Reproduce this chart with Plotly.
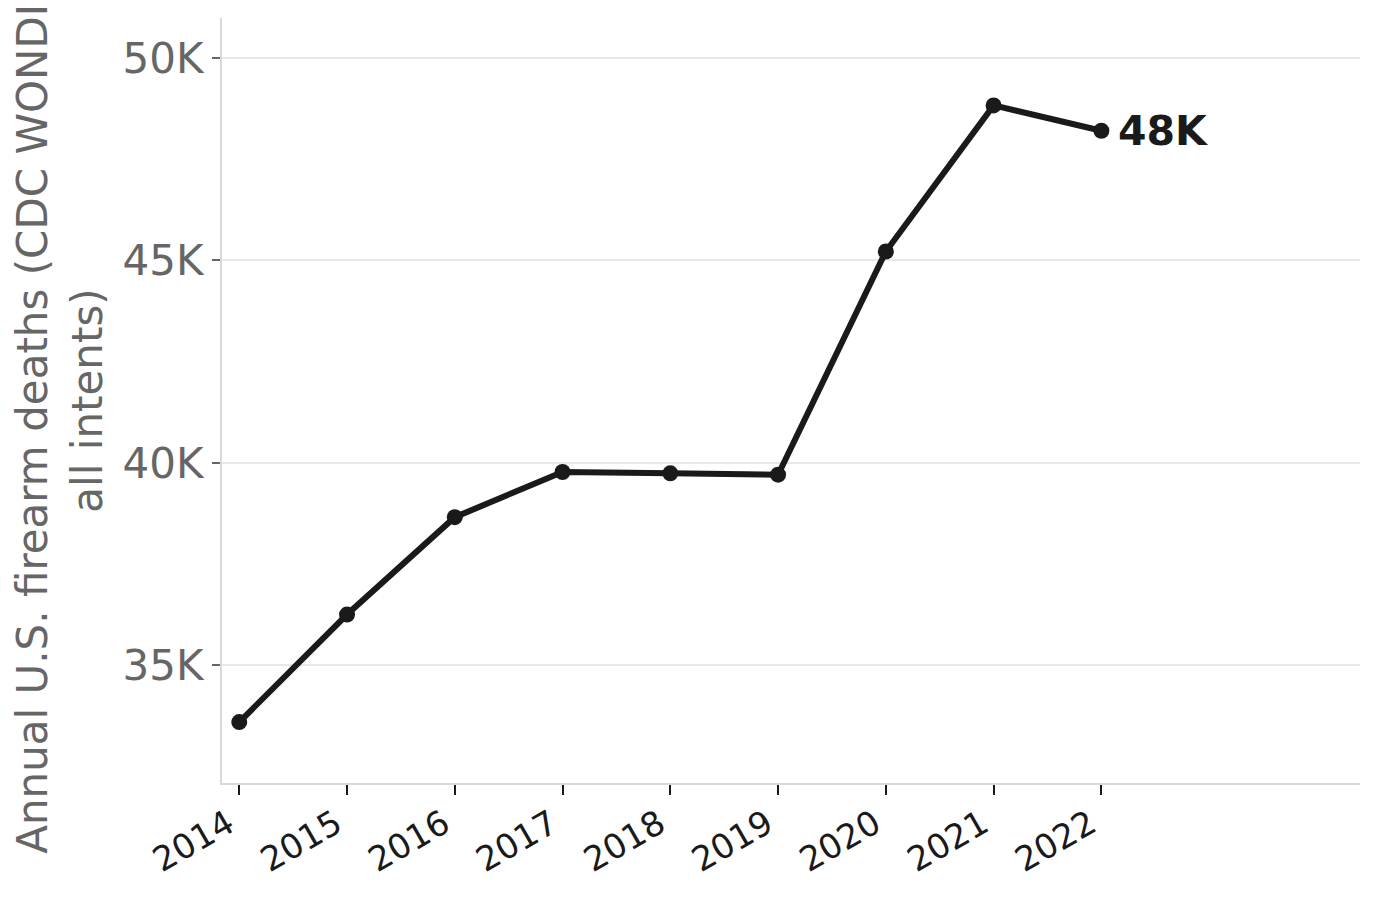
import plotly.graph_objects as go

years = [2014, 2015, 2016, 2017, 2018, 2019, 2020, 2021, 2022]
deaths = [33594, 36252, 38658, 39773, 39740, 39707, 45222, 48830, 48204]
y_ticks = [35000, 40000, 45000, 50000]
y_tick_labels = ["35K", "40K", "45K", "50K"]
last_label = "48K"

ink = "#1a1a1a"
grey = "#666666"

fig = go.Figure()
fig.add_trace(go.Scatter(
    x=years,
    y=deaths,
    mode="lines+markers",
    line=dict(color=ink, width=6),
    marker=dict(color=ink, size=16),
    showlegend=False,
))

fig.add_annotation(
    x=years[-1], y=deaths[-1], text="<b>" + last_label + "</b>",
    showarrow=False, xanchor="left", yanchor="middle", xshift=15,
    font=dict(family="DejaVu Sans", size=41, color=ink),
)

# page body adds an 8px offset, so margins are shifted to keep the plot box in place
fig.update_layout(
    width=1380, height=899,
    margin=dict(l=214, r=28, t=10, b=124),
    paper_bgcolor="white", plot_bgcolor="white",
    font=dict(family="DejaVu Sans"),
    xaxis=dict(
        range=[2013.84, 2024.4],
        tickvals=years, ticktext=[str(y) for y in years],
        tickangle=-30, tickfont=dict(size=34, color=ink),
        ticklabelshift=-11, ticklabelstandoff=-4,
        ticks="outside", ticklen=10, tickwidth=2, tickcolor=ink,
        showgrid=False, zeroline=False,
        showline=True, linecolor="#d9d9d9", linewidth=2,
    ),
    yaxis=dict(
        range=[32090, 50990],
        tickvals=y_ticks, ticktext=y_tick_labels,
        tickfont=dict(size=42, color=grey),
        ticks="outside", ticklen=8, tickwidth=2, tickcolor=grey,
        showgrid=True, gridcolor="#e8e8e8", gridwidth=2,
        zeroline=False,
        showline=True, linecolor="#d9d9d9", linewidth=2,
        title=dict(text="Annual U.S. firearm deaths (CDC WONDER,<br>all intents)",
                   font=dict(size=42, color=grey), standoff=9),
        automargin=False,
    ),
)

fig.write_html("out.html")
